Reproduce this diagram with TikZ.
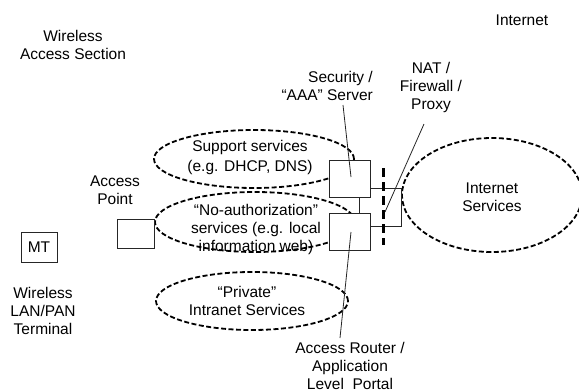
\documentclass[tikz,border=0pt]{standalone}
\usepackage{fontspec}
\setmainfont{Liberation Sans}
\usetikzlibrary{shapes.geometric}
\begin{document}
\begin{tikzpicture}[x=1pt,y=-1pt,
  lbl/.style={font=\fontsize{15.5}{18}\selectfont, align=center, inner sep=0pt},
  svc/.style={draw, ellipse, inner sep=0pt, dash pattern=on 5pt off 2.5pt, line width=1.8pt},
  box/.style={draw=black!85, line width=0.8pt, fill=white, inner sep=0pt},
  wire/.style={draw=black!85, line width=0.8pt},
  fw/.style={line width=3pt, dash pattern=on 9pt off 5pt}]
\useasboundingbox (0,0) rectangle (579,391);

% service areas
\node[svc, minimum width=200pt, minimum height=58pt] (sup) at (254,159) {};
\node[svc, minimum width=200pt, minimum height=60pt] (noa) at (255,222) {};
\node[svc, minimum width=192pt, minimum height=58pt] (priv) at (252,301) {};
\node[svc, minimum width=180pt, minimum height=114pt] (isvc) at (492,195) {};

% boxes
\node[box, minimum width=41pt, minimum height=37pt] (aaa) at (349.5,178.5) {};
\node[box, minimum width=41pt, minimum height=37pt] (ar) at (349.5,231.5) {};
\node[box, minimum width=37pt, minimum height=29pt] (ap) at (135.5,233.5) {};
\node[box, minimum width=36pt, minimum height=30pt, lbl] (mt) at (39,247) {MT};

% connections between boxes
\coordinate (cx) at (359,205);
\draw[wire] (cx |- aaa.south) -- (cx |- ar.north);
\coordinate (b1) at (401,188);
\coordinate (b2) at (401,226);
\draw[wire] (aaa.east |- b1) -- (b1) -- (b2) -- (ar.east |- b2);

% firewall boundary
\coordinate (fwt) at (383,168);
\coordinate (fwb) at (383,245);
\draw[fw] (fwt) -- (fwb);

% labels
\node[lbl] (was) at (73,44.5) {Wireless\\Access Section};
\node[lbl] (inet) at (522,20) {Internet};
\node[lbl, align=right, anchor=east] (sec) at (373,86) {Security /\\“AAA” Server};
\node[lbl] (nat) at (431,87) {NAT /\\Firewall /\\Proxy};
\node[lbl] (apl) at (115,190.5) {Access\\Point};
\node[lbl] (wlt) at (43,311) {Wireless\\LAN/PAN\\Terminal};
\node[lbl] (arl) at (350,365.5) {Access Router /\\Application\\Level\ \ Portal};
\node[lbl, font=\fontsize{15.5}{20}\selectfont] (supt) at (250,157) {Support services\\(e.g. DHCP, DNS)};
\node[lbl] (noat) at (256,229.5) {“No-authorization”\\services (e.g. local\\information web)};
\node[lbl] (privt) at (247,300.5) {“Private”\\Intranet Services};
\node[lbl] (isvct) at (492,197.5) {Internet\\Services};

% pointer lines
\coordinate (secA) at (343,105);
\coordinate (secB) at (351,177);
\draw[wire] (secA) -- (secB);
\coordinate (natA) at (424,124);
\coordinate (natB) at (385,212);
\draw[wire] (natA) -- (natB);
\coordinate (arA) at (351,232);
\coordinate (arB) at (340,338);
\draw[wire] (arA) -- (arB);
\end{tikzpicture}
\end{document}
